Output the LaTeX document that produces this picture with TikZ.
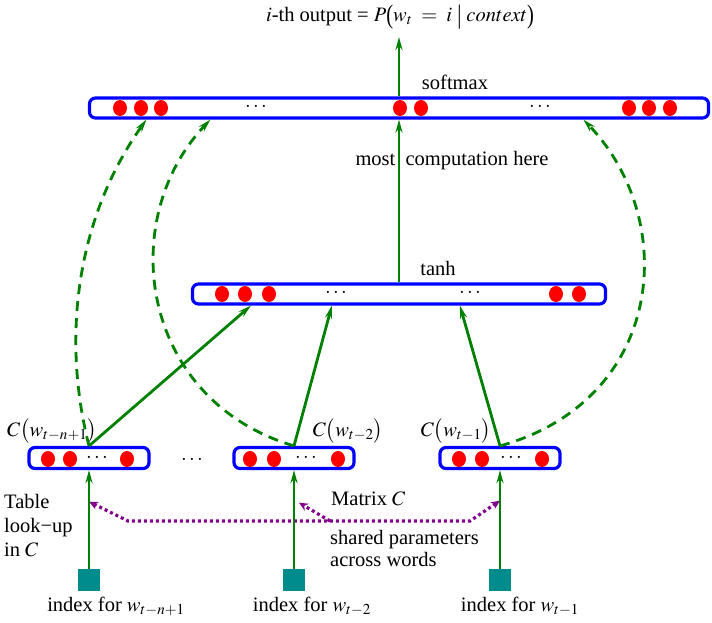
\documentclass[tikz,border=0pt]{standalone}
\usepackage{mathptmx}
\usepackage{fontspec}
\usepackage{graphicx}
\setmainfont{Liberation Serif}
\usetikzlibrary{arrows.meta,calc}
\definecolor{netgreen}{RGB}{0,128,0}
\definecolor{netblue}{RGB}{0,0,255}
\definecolor{idxteal}{RGB}{0,140,140}
\definecolor{sharedpurple}{RGB}{130,0,140}
\newcommand\tallsym[1]{\raisebox{-0.22ex}{\scalebox{1}[1.3]{#1}}}
\tikzset{
  layer/.style={draw=netblue,line width=3.2pt,rounded corners=6pt,minimum height=20pt,inner sep=0pt},
  feed/.style={draw=netgreen,line width=2.8pt,-{Stealth[length=13pt,width=7pt]}},
  skip/.style={feed,dash pattern=on 10pt off 7pt},
  unit/.style={fill=red},
  wordidx/.style={fill=idxteal,minimum size=22pt,inner sep=0pt},
  shared/.style={draw=sharedpurple,line width=3.2pt,dash pattern=on 3pt off 3pt},
  sharedtip/.style={shared,-{Stealth[length=9pt,width=8pt]}}
}
\begin{document}
\begin{tikzpicture}[x=1pt,y=-1pt,font=\fontsize{20.5}{24}\selectfont]
  \useasboundingbox (0,0) rectangle (712,622);
  % layers
  \node[layer,minimum width=619pt] (soft) at (399,108) {};
  \node[layer,minimum width=413pt] (tanh) at (399,294) {};
  \node[layer,minimum width=120pt,minimum height=21pt] (c1) at (89,458) {};
  \node[layer,minimum width=120pt,minimum height=21pt] (c2) at (294,458) {};
  \node[layer,minimum width=120pt,minimum height=21pt] (c3) at (500,458) {};
  % units
  \foreach \x in {120,141,161,400,421,629,649,670} \fill[unit] (\x,108) ellipse (7 and 8);
  \foreach \x in {222,245,269,556,579} \fill[unit] (\x,294) ellipse (7 and 8);
  \foreach \x in {48,70,127,250,274,338,459,482,542} \fill[unit] (\x,459) ellipse (7 and 8);
  \foreach \x/\y in {256/106,540/106,336/292,470/292,97/457,306/457,511/457,192/459}
    \node (dots\x) at (\x,\y) {$\ldots$};
  % word indices
  \node[wordidx] (idx1) at (89,580) {};
  \node[wordidx] (idx2) at (294,580) {};
  \node[wordidx] (idx3) at (500,580) {};
  % texts
  \node[inner sep=0pt] (title) at (400,17) {$i$-th output = $P$\tallsym{(}$w_t\;=\;i$\ \tallsym{|}\ $context$\tallsym{)}};
  \node (softlbl) at (455,82) {softmax};
  \node (most) at (452,161) {most\ \ computation here};
  \node (tanhlbl) at (438,268) {tanh};
  \node (lc1) at (52,431) {$C\big(w_{t-n+1}\big)$};
  \node (lc2) at (348,431) {$C\big(w_{t-2}\big)$};
  \node (lc3) at (456,431) {$C\big(w_{t-1}\big)$};
  \node (in1) at (116,606) {index for $w_{t-n+1}$};
  \node (in2) at (312,606) {index for $w_{t-2}$};
  \node (in3) at (520,606) {index for $w_{t-1}$};
  \node[anchor=west,align=left,inner sep=0pt] (lookup) at (4,526) {Table\\ look−up\\ in $C$};
  \node[anchor=west,inner sep=0pt] (matrix) at (331,499) {Matrix $C$};
  \node[anchor=west,align=left,inner sep=0pt,font=\fontsize{20.5}{22}\selectfont] (sharedlbl) at (330,548) {shared parameters\\across words};
  % shared look-up
  \coordinate (lk1) at ($(c1.south)!0.32!(idx1.north)$);
  \coordinate (lk2) at ($(c2.south)!0.33!(idx2.north)$);
  \coordinate (lk3) at ($(c3.south)!0.31!(idx3.north)$);
  \draw[shared,{Stealth[length=9pt,width=8pt]}-{Stealth[length=9pt,width=8pt]}] (lk1) -- (128,521) -- (470,521) -- (lk3);
  \draw[sharedtip] (330,521) -- ([xshift=5pt]lk2);
  % connections
  \foreach \i in {1,2,3} \draw[feed] (idx\i) -- (c\i);
  \draw[feed] (c1.north) -- ([xshift=60pt]tanh.south west);
  \draw[feed] (c2.north) -- ([xshift=141pt]tanh.south west);
  \draw[feed] (c3.north) -- ([xshift=269pt]tanh.south west);
  \draw[feed] (tanh) -- (soft);
  \coordinate (outtip) at (399,37);
  \draw[feed] (soft.north) -- (outtip);
  \draw[skip] (c1.north) .. controls (62,340) and (75,220) .. ([xshift=58.5pt]soft.south west);
  \draw[skip] (c2.north) .. controls (140,400) and (115,220) .. ([xshift=122.5pt]soft.south west);
  \draw[skip] (c3.north) .. controls (665,400) and (680,220) .. ([xshift=495.5pt]soft.south west);
\end{tikzpicture}
\end{document}
